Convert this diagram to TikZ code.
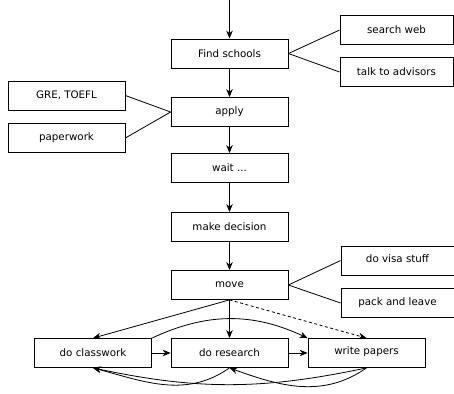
\documentclass[tikz,border=0pt]{standalone}
\usepackage{fontspec}
\setmainfont{DejaVu Sans}
\usetikzlibrary{arrows.meta}
\begin{document}
\begin{tikzpicture}[x=1pt, y=-1pt,
  every node/.style={font=\fontsize{10.3}{12}\selectfont},
  box/.style={draw, line width=0.8pt, minimum width=117pt, minimum height=29pt, inner sep=0pt},
  sidebox/.style={box, minimum width=113pt},
  link/.style={line width=0.8pt},
  flow/.style={line width=0.8pt, -{Stealth[length=8pt,width=6.5pt]}},
  maybe/.style={flow, dash pattern=on 3pt off 2.5pt}]
\useasboundingbox (0,0) rectangle (454,393);

% main sequence
\node[box] (find) at (229.5,53.5) {Find schools};
\node[box] (apply) at (229.5,112) {apply};
\node[box] (wait) at (229.5,168) {wait ...};
\node[box] (decide) at (229.5,227) {make decision};
\node[box] (move) at (229.5,285) {move};

% side tasks
\node[sidebox] (web) at (396.5,30) {\raisebox{1.5pt}{search web}};
\node[sidebox] (advisors) at (396.5,72) {talk to advisors};
\node[box] (tests) at (66.5,95.5) {GRE, TOEFL};
\node[box] (paper) at (66.5,138) {\raisebox{3pt}{paperwork}};
\node[sidebox] (visa) at (397.5,260.5) {\raisebox{4pt}{do visa stuff}};
\node[sidebox] (pack) at (397.5,303) {pack and leave};

% activities after moving
\node[box] (class) at (93,353) {do classwork};
\node[box] (research) at (229.5,353) {do research};
\node[box] (write) at (366.5,353) {\raisebox{5pt}{write papers}};

\coordinate (start) at (229.5,0);

\draw[flow] (start) -- (find);
\draw[flow] (find) -- (apply);
\draw[flow] (apply) -- (wait);
\draw[flow] (wait) -- (decide);
\draw[flow] (decide) -- (move);

\draw[link] (find.east) -- (web.west);
\draw[link] (find.east) -- (advisors.west);
\draw[link] (apply.west) -- (tests.east);
\draw[link] (apply.west) -- (paper.east);
\draw[link] (move.east) -- (visa.west);
\draw[link] (move.east) -- (pack.west);

\draw[flow] (move.south) -- (research.north);
\draw[flow] (move.south) -- (class.north);
\draw[maybe] (move.south) -- (write.north);

\draw[flow] (class.north east) to[bend left=25] (write.north west);
\draw[flow] (class) -- (research);
\draw[flow] (research) -- (write);

\draw[flow] (research.south) to[out=-145, in=-15] (class.south);
\draw[flow] (write.south) to[out=-145, in=-20] (research.south);
\draw[flow] (write.south) to[out=-168, in=-12] (class.south);
\end{tikzpicture}
\end{document}
